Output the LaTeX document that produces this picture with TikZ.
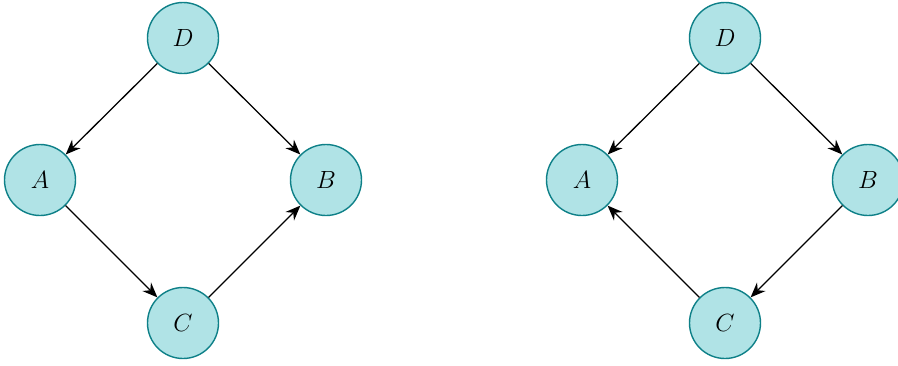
\documentclass[tikz,border=0pt]{standalone}
\usepackage{amsmath}
\usetikzlibrary{positioning,arrows.meta}
\definecolor{nodefill}{HTML}{B0E3E6}
\definecolor{nodeline}{HTML}{0E8088}

\begin{document}
\begin{tikzpicture}
  [x=1pt,y=-1pt,every node/.style={circle,draw=nodeline,fill=nodefill,line width=1.4pt,minimum size=71pt,inner sep=0pt,font=\Huge},
   every path/.style={line width=1.3pt},edge/.style={-{Stealth[length=15pt,width=12pt]}}]
  \useasboundingbox (0,0) rectangle (898,365);
  % left graph
  \node (d1) at (183,38) {$D$};
  \node (a1) at (40,180)  {$A$};
  \node (b1) at (326,180)  {$B$};
  \node (c1) at (183,323)  {$C$};

  \draw[edge] (d1) -- (a1);
  \draw[edge] (d1) -- (b1);
  \draw[edge] (a1) -- (c1);
  \draw[edge] (c1) -- (b1);

  % right graph
  \node (d2) at (725,38) {$D$};
  \node (a2) at (582,180)  {$A$};
  \node (b2) at (868,180)  {$B$};
  \node (c2) at (725,323)  {$C$};

  \draw[edge] (d2) -- (a2);
  \draw[edge] (d2) -- (b2);
  \draw[edge] (b2) -- (c2);
  \draw[edge] (c2) -- (a2);
\end{tikzpicture}
\end{document}
